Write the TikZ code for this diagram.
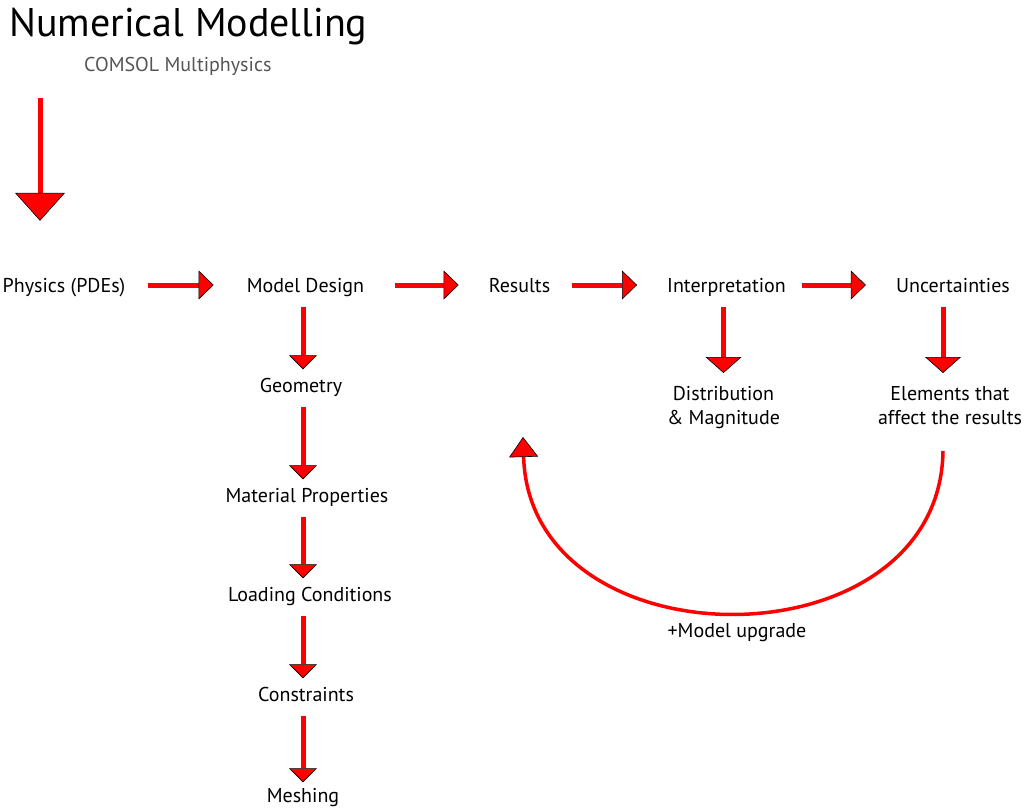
\documentclass[tikz,border=0pt]{standalone}
\usepackage{fontspec}
\setmainfont{PT Sans}
\usetikzlibrary{arrows.meta}

\definecolor{subgray}{HTML}{555555}

\tikzset{
    lbl/.style={anchor=base, inner sep=0pt, font=\fontsize{20}{24.5}\selectfont, text height=18pt, text depth=4pt},
    twoline/.style={anchor=north, inner sep=0pt, align=center, font=\fontsize{20}{24.5}\selectfont},
    redtip/.style 2 args={-{Triangle[width=#1,length=#2,color=black,fill=red,line width=0.6pt]}},
    harr/.style={draw=red, line width=5pt, redtip={29pt}{15pt}, shorten <=22pt, shorten >=30pt},
    varr/.style={draw=red, line width=5pt, redtip={28pt}{14pt}, shorten <=10.5pt, shorten >=4.5pt},
    darr/.style={draw=red, line width=5pt, redtip={36pt}{16pt}, shorten <=11pt, shorten >=13pt},
    bigarr/.style={draw=red, line width=5pt, redtip={50pt}{28pt}},
    looparr/.style={draw=red, line width=3.5pt, redtip={29pt}{20pt}}
}

\begin{document}
\begin{tikzpicture}[x=1pt, y=-1pt]

    \useasboundingbox (0,0) rectangle (1026,808);

    \node[anchor=base west, inner sep=0pt, font=\fontsize{40}{46}\selectfont] (title) at (9,37) {Numerical Modelling};
    \node[anchor=base west, inner sep=0pt, font=\fontsize{20}{24}\selectfont, text=subgray] (soft) at (84,71) {COMSOL Multiphysics};

    \node[lbl] (phys) at (64,292) {Physics (PDEs)};
    \node[lbl] (model) at (305.5,292) {Model Design};
    \node[lbl] (results) at (519.5,292) {Results};
    \node[lbl] (interp) at (726.5,292) {Interpretation};
    \node[lbl] (unc) at (953,292) {Uncertainties};

    \node[lbl] (geom) at (301,392) {Geometry};
    \node[lbl] (mat) at (307,502) {Material Properties};
    \node[lbl] (load) at (310,601) {Loading Conditions};
    \node[lbl] (cons) at (306,701) {Constraints};
    \node[lbl] (mesh) at (303,802) {Meshing};

    \node[twoline] (dist) at (723.5,386) {Distribution\\\& Magnitude};
    \node[twoline] (elem) at (950,386) {Elements that\\affect the results};

    \node[lbl] (upgrade) at (737,637) {+Model upgrade};

    \coordinate (bigtop) at (40,98);
    \coordinate (colx) at (303,0);
    \coordinate (loopA) at (943,451);
    \coordinate (loopB) at (523,437);

    \draw[bigarr, shorten >=53pt] (bigtop) -- (bigtop |- phys.north);

    \draw[harr, shorten >=33pt] (phys.east) -- (model.west);
    \draw[harr, shorten <=31pt] (model.east) -- (results.west);
    \draw[harr] (results.east) -- (interp.west);
    \draw[harr, shorten <=16pt] (interp.east) -- (unc.west);

    \draw[varr] (model.south -| colx) -- (geom.north -| colx);
    \draw[varr] (geom.south -| colx) -- (mat.north -| colx);
    \draw[varr] (mat.south -| colx) -- (load.north -| colx);
    \draw[varr] (load.south -| colx) -- (cons.north -| colx);
    \draw[varr, shorten >=1.5pt] (cons.south -| colx) -- (mesh.north -| colx);

    \draw[darr] (interp.south -| dist.north) -- (dist.north);
    \draw[darr] (unc.south -| loopA) -- (elem.north -| loopA);

    \draw[looparr] (loopA) .. controls (940,668) and (530,668) .. (loopB);

\end{tikzpicture}
\end{document}
